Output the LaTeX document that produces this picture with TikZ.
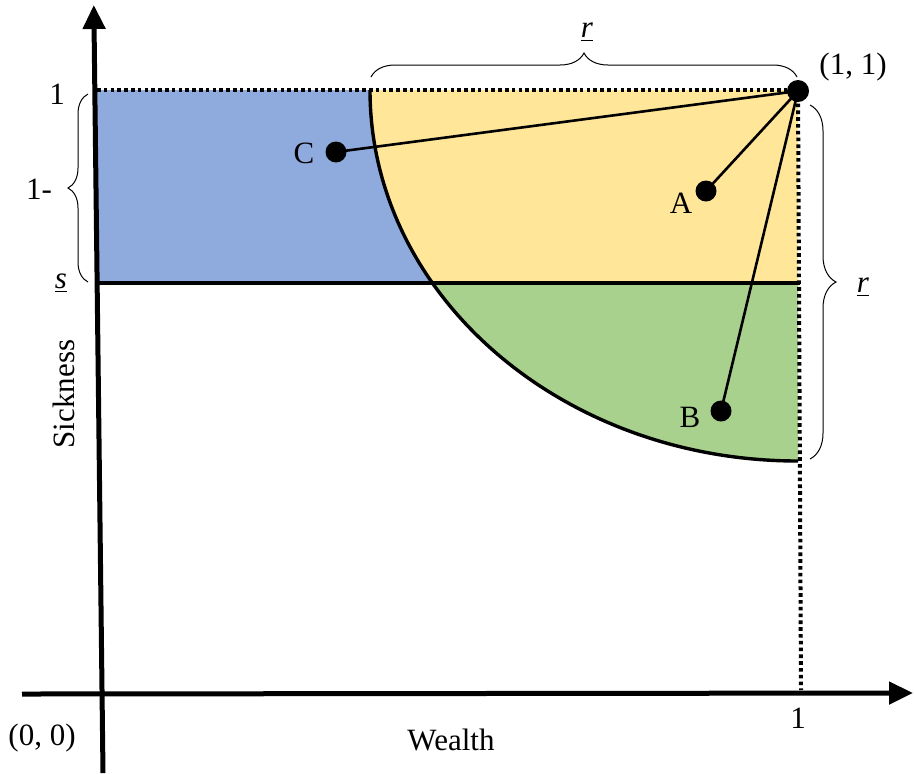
\documentclass[tikz,border=0pt]{standalone}
\usepackage{fontspec}
\setmainfont{Liberation Serif}
\usetikzlibrary{arrows.meta, positioning, decorations.pathreplacing}
\definecolor{regblue}{HTML}{8FAADC}
\definecolor{regyellow}{HTML}{FFE699}
\definecolor{reggreen}{HTML}{A9D18E}
\tikzset{
    axisarrow/.style={line width=2.5pt, -{Triangle[length=12pt, width=11pt]}},
    guideline/.style={line width=2pt, dash pattern=on 1.8pt off 1.6pt},
    bracedeco/.style={decorate, decoration={brace, amplitude=#1}, line width=0.5pt},
    ptdot/.style={circle, fill=black, inner sep=0pt, minimum size=10.5pt},
    linkline/.style={line width=1.3pt},
}

\begin{document}
\begin{tikzpicture}[
    x=0.5pt, y=-0.5pt,
    every node/.style={font=\fontsize{15.5}{18}\selectfont, inner sep=0pt},
]
\useasboundingbox (0,0) rectangle (914,773);

% regions
\fill[regblue] (97,90) -- (370,90)
    arc[start angle=180, end angle=148.65, x radius=428, y radius=371] -- (97,283) -- cycle;
\fill[regyellow] (798,90) -- (370,90)
    arc[start angle=180, end angle=90, x radius=428, y radius=371] -- cycle;
\begin{scope}
    \clip (0,283) rectangle (914,773);
    \fill[reggreen] (798,90) -- (370,90)
        arc[start angle=180, end angle=90, x radius=428, y radius=371] -- cycle;
\end{scope}

\coordinate (topleft) at (97,90);
\coordinate (topright) at (798,90);
\coordinate (midleft) at (97,283);
\coordinate (midright) at (800,283);
\coordinate (onex) at (801,690);

\draw[guideline] (topleft) -- (topright);
\draw[guideline] (topright) -- (onex);
\draw[line width=1.6pt] (midleft) -- (midright);
\draw[line width=1.7pt] (370,90)
    arc[start angle=180, end angle=90, x radius=428, y radius=371];

% axes
\coordinate (ybot) at (103,773);
\coordinate (ytop) at (93.8,5);
\coordinate (xleft) at (22,694);
\coordinate (xright) at (913,693);
\draw[axisarrow] (ybot) -- (ytop);
\draw[axisarrow] (xleft) -- (xright);

% points
\node[ptdot, minimum size=11pt] (P) at (798,91) {};
\node[ptdot] (A) at (706,191) {};
\node[ptdot] (B) at (721,411) {};
\node[ptdot] (C) at (336,152) {};
\draw[linkline] (P.center) -- (A.center);
\draw[linkline] (P.center) -- (B.center);
\draw[linkline] (P.center) -- (C.center);

\node (labA) at (681,203) {A};
\node (labB) at (690,417) {B};
\node (labC) at (304,153) {C};
\node (labP) at (853,67) {(1, 1)};

% braces
\draw[bracedeco=12pt] (371,77) -- (797,77);
\draw[bracedeco=13pt] (810,105) -- (810,459);
\draw[bracedeco=10pt] (88,282) -- (88,94);
\node (rtop) at (587,32) {\underline{\textit{r}}};
\node (rright) at (863,287) {\underline{\textit{r}}};

% axis labels
\node (yone) at (57,94) {1};
\node (yonem) at (39,189) {1-};
\node (slab) at (61,283) {\underline{\textit{s}}};
\node[rotate=90] (sick) at (64,394) {Sickness};
\node (wealth) at (451,740) {Wealth};
\node (orig) at (42,738) {(0, 0)};
\node (xone) at (798,718) {1};
\end{tikzpicture}
\end{document}
